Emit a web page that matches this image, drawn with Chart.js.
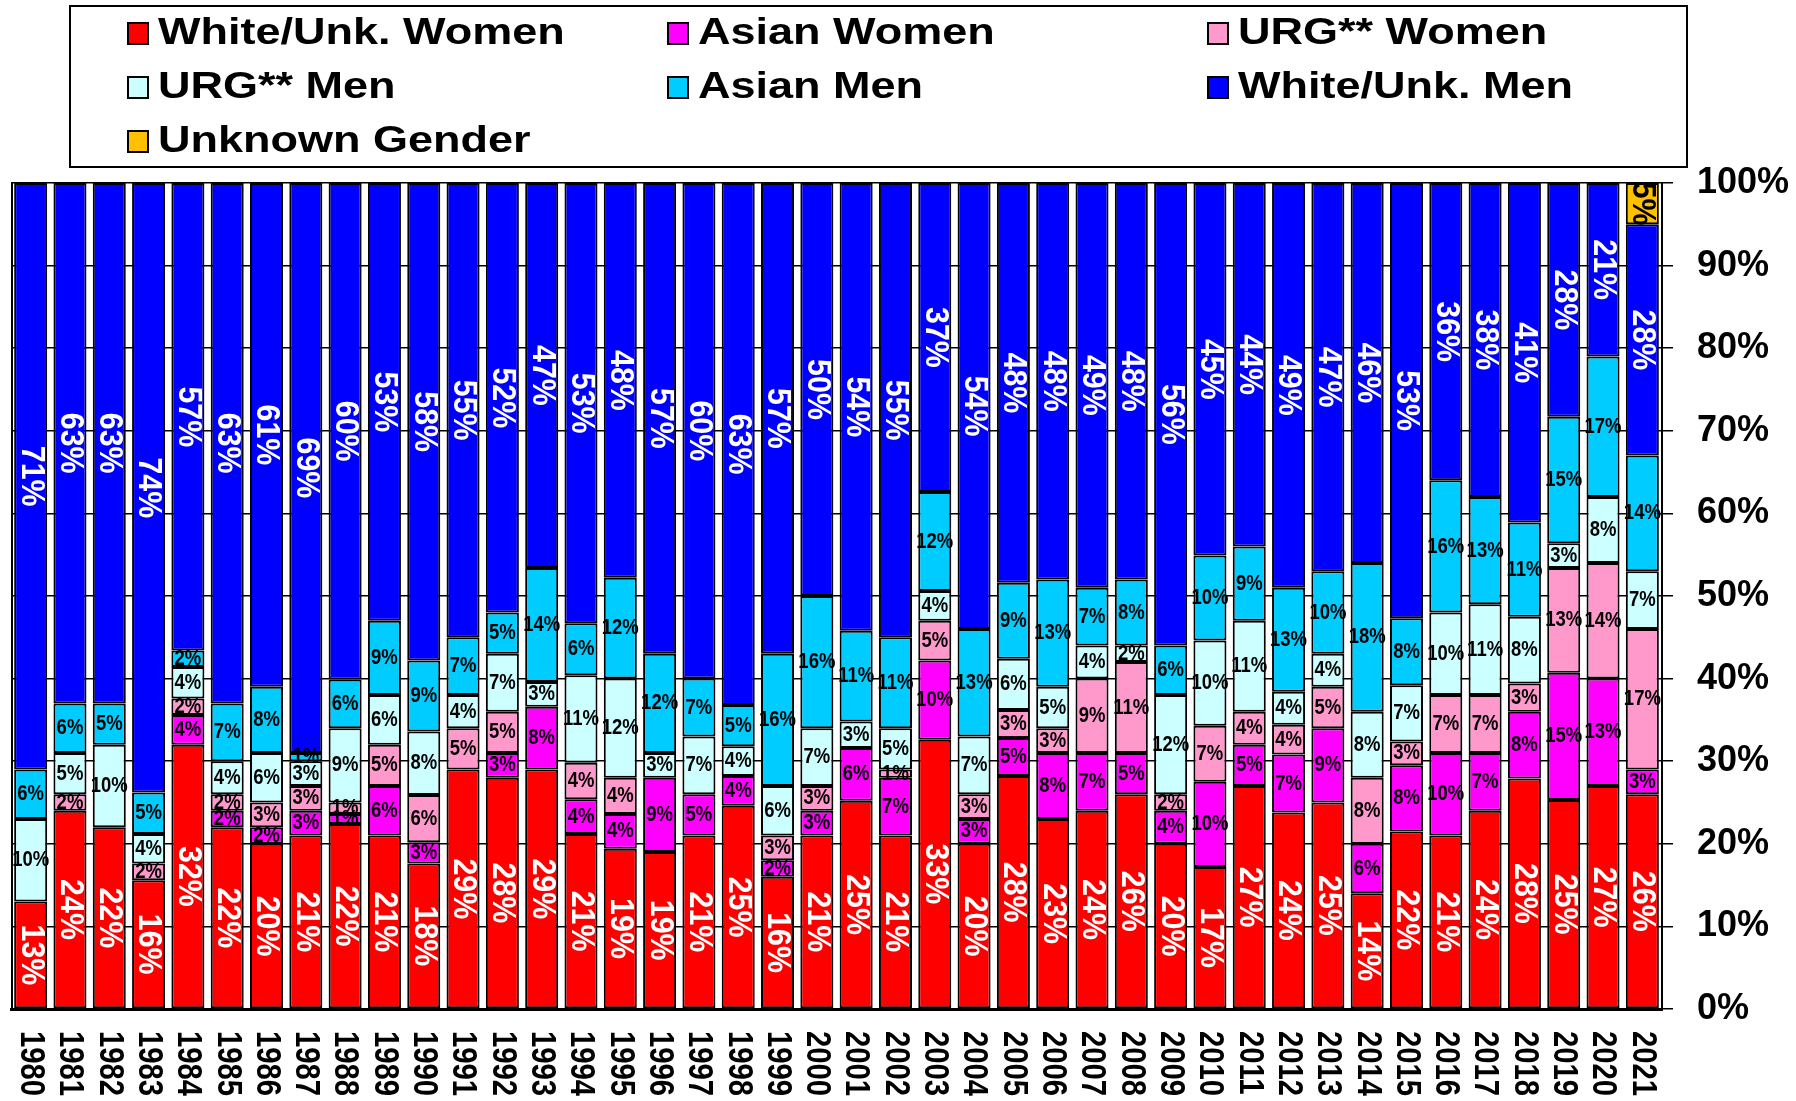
<!DOCTYPE html>
<html>
<head>
<meta charset="utf-8">
<script src="https://cdn.jsdelivr.net/npm/chart.js@4"></script>
<style>
  html, body { margin: 0; padding: 0; background: #ffffff; }
  canvas { display: block; }
</style>
</head>
<body>
<canvas id="c" width="1796" height="1101"></canvas>
<script>
const years = ['1980','1981','1982','1983','1984','1985','1986','1987','1988','1989',
  '1990','1991','1992','1993','1994','1995','1996','1997','1998','1999',
  '2000','2001','2002','2003','2004','2005','2006','2007','2008','2009',
  '2010','2011','2012','2013','2014','2015','2016','2017','2018','2019',
  '2020','2021'];

const seriesNames = ['White/Unk. Women','Asian Women','URG** Women','URG** Men','Asian Men','White/Unk. Men','Unknown Gender'];
const seriesColors = ['#FF0000','#FF00FF','#FF99CC','#CCFFFF','#00CCFF','#0000FF','#FFC000'];

const whiteWomen = [13,24,22,15.6,32,22,20,21,22.4,21, 17.6,29,28,29,21.2,19.4,19,21,24.6,16,
  21,25.2,21,32.6,20,28.2,23,24,26,20, 17.2,27,23.8,25,14,21.5,21,24,27.9,25.3, 27,26];
const asianWomen = [0,0,0,0,3.6,2,2,3,1.2,6, 2.6,0,3,7.6,4.2,4.2,9,5,3.6,2,
  3,6.4,7,9.6,3,4.6,8,7,5,4, 10.3,5,7,9,6,8,10,7,8.1,15.4, 13,3];
const urgWomen = [0,2,0,2,2,2,3,3,1.4,5, 5.7,5,5,0,4.4,4.4,0,0,0,3,
  3,0,1,4.8,3,3.4,3,9,11,2, 6.8,4,3.6,5,8,2.9,7,7,3.4,12.7, 14,17];
const urgMen = [10,5,10,3.6,3.8,4,6,3,9,6, 7.7,4,7,3,10.6,12,3,7,3.6,6,
  7,3.2,5,3.6,7,6.2,5,4,2,12, 10.3,11,4,4,8,6.8,10,11,8.1,3, 8,7];
const asianMen = [6,6,5,5,2,7,8,1,5.9,9, 8.6,7,5,13.8,6.3,12.2,12,7,5,16,
  16,11,11,12,13,9.2,13,7,8,6, 10.3,9,12.6,10,18,8.1,16,13,11.4,15.3, 17,14];
const whiteMen = [71,63,63,73.8,56.6,63,61,69,60.1,53, 57.8,55,52,46.6,53.3,47.8,57,60,63.2,57,
  50,54.2,55,37.4,54,48.4,48,49,48,56, 45.1,44,49,47,46,52.7,36,38,41.1,28.3, 21,28];
const unknownGender = [0,0,0,0,0,0,0,0,0,0, 0,0,0,0,0,0,0,0,0,0,
  0,0,0,0,0,0,0,0,0,0, 0,0,0,0,0,0,0,0,0,0, 0,5];

const yTicks = [0,10,20,30,40,50,60,70,80,90,100];

const seriesValues = [whiteWomen, asianWomen, urgWomen, urgMen, asianMen, whiteMen, unknownGender];
const labelRotated = [true,false,false,false,false,true,true];
const labelColor = ['#FFFFFF','#000000','#000000','#000000','#000000','#FFFFFF','#000000'];

const FONT = '"Liberation Sans", Arial, Helvetica, sans-serif';

function drawText(ctx, text, x, y, opts) {
  ctx.save();
  ctx.translate(x, y);
  if (opts.rotate) ctx.rotate(Math.PI / 2);
  ctx.scale(opts.sx || 1, opts.sy || 1);
  ctx.font = 'bold ' + opts.size + 'px ' + FONT;
  ctx.fillStyle = opts.color || '#000';
  ctx.textAlign = opts.align || 'center';
  ctx.textBaseline = opts.baseline || 'middle';
  ctx.fillText(text, 0, 0);
  ctx.restore();
}

const framePlugin = {
  id: 'frame',
  beforeDatasetsDraw(chart) {
    const ctx = chart.ctx, a = chart.chartArea;
    ctx.save();
    ctx.strokeStyle = '#000';
    ctx.lineWidth = 2;
    ctx.beginPath();
    ctx.moveTo(a.left + 1, a.top);
    ctx.lineTo(a.left + 1, a.bottom);
    ctx.stroke();
    ctx.restore();
  }
};

const labelPlugin = {
  id: 'segLabels',
  afterDatasetsDraw(chart) {
    const ctx = chart.ctx;
    chart.data.datasets.forEach((ds, i) => {
      const meta = chart.getDatasetMeta(i);
      meta.data.forEach((bar, j) => {
        const v = ds.data[j];
        if (!v) return;
        const txt = Math.round(v) + '%';
        const cy = (bar.y + bar.base) / 2;
        if (labelRotated[i]) {
          drawText(ctx, txt, bar.x, cy, {rotate: true, size: 33, sx: 0.92, color: labelColor[i]});
        } else {
          drawText(ctx, txt, bar.x, cy, {size: 22, sx: 0.84, color: labelColor[i]});
        }
      });
    });
  },
  afterDraw(chart) {
    const ctx = chart.ctx;
    const xs = chart.scales.x;
    const a = chart.chartArea;
    chart.data.labels.forEach((lab, i) => {
      drawText(ctx, lab, xs.getPixelForTick(i), a.bottom + 22,
        {rotate: true, size: 35, sx: 0.835, align: 'left', color: '#000'});
    });
    ctx.save();
    ctx.strokeStyle = '#000';
    ctx.lineWidth = 2;
    ctx.strokeRect(70, 6, 1617, 161);
    const colX = [128, 668, 1208];
    const rowY = [33, 87, 141];
    chart.data.datasets.forEach((ds, i) => {
      const cx = colX[i % 3], cy = rowY[Math.floor(i / 3)];
      ctx.fillStyle = ds.backgroundColor;
      ctx.fillRect(cx, cy - 10, 20, 21);
      ctx.lineWidth = 2;
      ctx.strokeStyle = '#000';
      ctx.strokeRect(cx, cy - 10, 20, 21);
      drawText(ctx, ds.label, cx + 30, cy + 1, {size: 37.5, sx: 1.2, align: 'left', color: '#000'});
    });
    ctx.restore();
  }
};

const datasets = seriesNames.map((name, i) => ({
  label: name,
  data: seriesValues[i],
  backgroundColor: seriesColors[i],
  borderColor: '#000000',
  borderWidth: 2,
  borderSkipped: false,
  categoryPercentage: 1.0,
  barPercentage: 0.84
}));

new Chart(document.getElementById('c'), {
  type: 'bar',
  data: { labels: years, datasets },
  options: {
    responsive: false,
    animation: false,
    devicePixelRatio: 1,
    layout: { padding: { top: 183, left: 11, right: 0, bottom: 0 } },
    plugins: { legend: { display: false }, tooltip: { enabled: false } },
    scales: {
      x: {
        stacked: true,
        grid: { display: false },
        ticks: { display: false },
        border: { display: true, color: '#000', width: 3 },
        afterFit(scale) { scale.height = 92; }
      },
      y: {
        stacked: true,
        position: 'right',
        min: 0,
        max: 100,
        afterBuildTicks(scale) { scale.ticks = yTicks.map(v => ({ value: v })); },
        ticks: {
          callback: v => v + '%',
          color: '#000',
          padding: 24,
          font: { family: FONT, size: 36, weight: 'bold' }
        },
        grid: { color: '#000', lineWidth: 1.5, tickLength: 11, drawTicks: true },
        border: { display: true, color: '#000', width: 2 },
        afterFit(scale) { scale.width = 134; }
      }
    }
  },
  plugins: [framePlugin, labelPlugin]
});
</script>
</body>
</html>
